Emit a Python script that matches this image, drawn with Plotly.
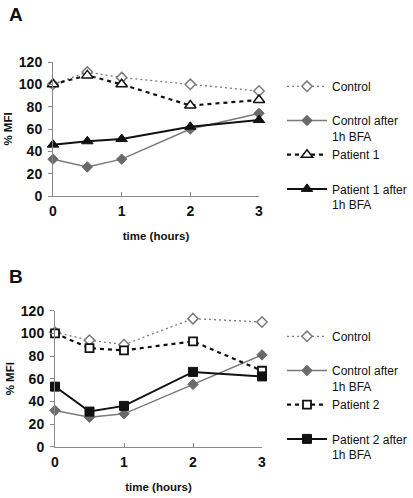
import plotly.graph_objects as go

W, H = 413, 498


def px(x):
    return x / W


def py(y):
    return 1 - y / H


time = [0, 0.5, 1, 2, 3]

# Panel A
a_control = [100, 111, 106, 100, 94]
a_control_bfa = [33, 26, 33, 60, 74]
a_patient1 = [100, 108, 100, 81, 86]
a_patient1_bfa = [46, 49, 51, 62, 68]

# Panel B
b_control = [101, 94, 90, 113, 110]
b_control_bfa = [32, 26, 29, 55, 81]
b_patient2 = [100, 87, 85, 93, 67]
b_patient2_bfa = [53, 31, 36, 66, 62]

y_ticks = [0, 20, 40, 60, 80, 100, 120]
x_ticks = [0, 1, 2, 3]

GRAY = "#7a7a7a"
BLACK = "#111111"
FONT = "Liberation Sans, Arial, sans-serif"

fig = go.Figure()


def add_panel(xa, ya, legend, series):
    for name, vals, style in series:
        fig.add_trace(go.Scatter(
            x=time, y=vals, name=name, xaxis=xa, yaxis=ya, legend=legend,
            mode="lines+markers", cliponaxis=False, hoverinfo="skip", **style))


ctrl_style = dict(line=dict(color=GRAY, width=1.3, dash="2px,3px"),
                  marker=dict(symbol="diamond", size=8, color="white",
                              line=dict(color=GRAY, width=1.5)))
ctrl_bfa_style = dict(line=dict(color=GRAY, width=1.5),
                      marker=dict(symbol="diamond", size=8, color="#6a6a6a",
                                  line=dict(color="#6a6a6a", width=1)))
pat_style_tri = dict(line=dict(color=BLACK, width=2.2, dash="4px,4px"),
                     marker=dict(symbol="triangle-up", size=10, color="white",
                                 line=dict(color=BLACK, width=1.5)))
pat_bfa_style_tri = dict(line=dict(color=BLACK, width=2),
                         marker=dict(symbol="triangle-up", size=10, color=BLACK,
                                     line=dict(color=BLACK, width=1)))
pat_style_sq = dict(line=dict(color=BLACK, width=2.2, dash="4px,4px"),
                    marker=dict(symbol="square", size=8, color="white",
                                line=dict(color=BLACK, width=1.8)))
pat_bfa_style_sq = dict(line=dict(color=BLACK, width=2),
                        marker=dict(symbol="square", size=9, color=BLACK,
                                    line=dict(color=BLACK, width=1)))

add_panel("x", "y", "legend", [
    ("Control<br> ", a_control, ctrl_style),
    ("Control after<br>1h BFA", a_control_bfa, ctrl_bfa_style),
    ("Patient 1<br> ", a_patient1, pat_style_tri),
    ("Patient 1 after<br>1h BFA", a_patient1_bfa, pat_bfa_style_tri),
])
add_panel("x2", "y2", "legend2", [
    ("Control<br> ", b_control, ctrl_style),
    ("Control after<br>1h BFA", b_control_bfa, ctrl_bfa_style),
    ("Patient 2<br> ", b_patient2, pat_style_sq),
    ("Patient 2 after<br>1h BFA", b_patient2_bfa, pat_bfa_style_sq),
])

tickfont = dict(family=FONT, size=14, color=BLACK, weight="bold")
titlefont = dict(family=FONT, size=11.5, color=BLACK, weight="bold")

xaxis_common = dict(range=[0, 3], tickvals=x_ticks, showgrid=False, zeroline=False,
                    showline=True, linecolor="#8a8a8a", linewidth=1,
                    ticks="inside", ticklen=4, tickcolor="#8a8a8a",
                    tickfont=tickfont, fixedrange=True, automargin=False,
                    ticklabelstandoff=2,
                    title=dict(text="time (hours)", font=titlefont, standoff=14))
yaxis_common = dict(range=[0, 120], tickvals=y_ticks, showgrid=False, zeroline=False,
                    showline=True, linecolor="#8a8a8a", linewidth=1,
                    ticks="outside", ticklen=4, tickcolor="#8a8a8a",
                    tickfont=tickfont, fixedrange=True, automargin=False,
                    ticklabelstandoff=3,
                    title=dict(text="% MFI", font=titlefont, standoff=3))

legend_common = dict(font=dict(family=FONT, size=12, color=BLACK),
                     bgcolor="rgba(0,0,0,0)", borderwidth=0, valign="top",
                     itemwidth=40, tracegroupgap=0, xanchor="left", yanchor="top",
                     itemclick=False, itemdoubleclick=False)

fig.update_layout(
    width=W, height=H, margin=dict(l=0, r=0, t=0, b=0, autoexpand=False),
    paper_bgcolor="white", plot_bgcolor="white", showlegend=True,
    hovermode=False,
    xaxis=dict(domain=[px(53), px(259)], anchor="y", **xaxis_common),
    yaxis=dict(domain=[py(196), py(62)], anchor="x", **yaxis_common),
    xaxis2=dict(domain=[px(55), px(262)], anchor="y2", **xaxis_common),
    yaxis2=dict(domain=[py(446.7), py(310.7)], anchor="x2", **yaxis_common),
    legend=dict(x=px(282), y=py(72), **legend_common),
    legend2=dict(x=px(282), y=py(322), **legend_common),
    annotations=[
        dict(text="A", x=px(7), y=py(14), xref="paper", yref="paper",
             xanchor="left", yanchor="middle", showarrow=False,
             font=dict(family=FONT, size=19, color=BLACK, weight="bold")),
        dict(text="B", x=px(7), y=py(276), xref="paper", yref="paper",
             xanchor="left", yanchor="middle", showarrow=False,
             font=dict(family=FONT, size=19, color=BLACK, weight="bold")),
    ],
)

fig.write_html(
    "out.html",
    config={"displayModeBar": False, "staticPlot": False},
    post_script="document.body.style.margin='0';document.body.style.overflow='hidden';",
)
